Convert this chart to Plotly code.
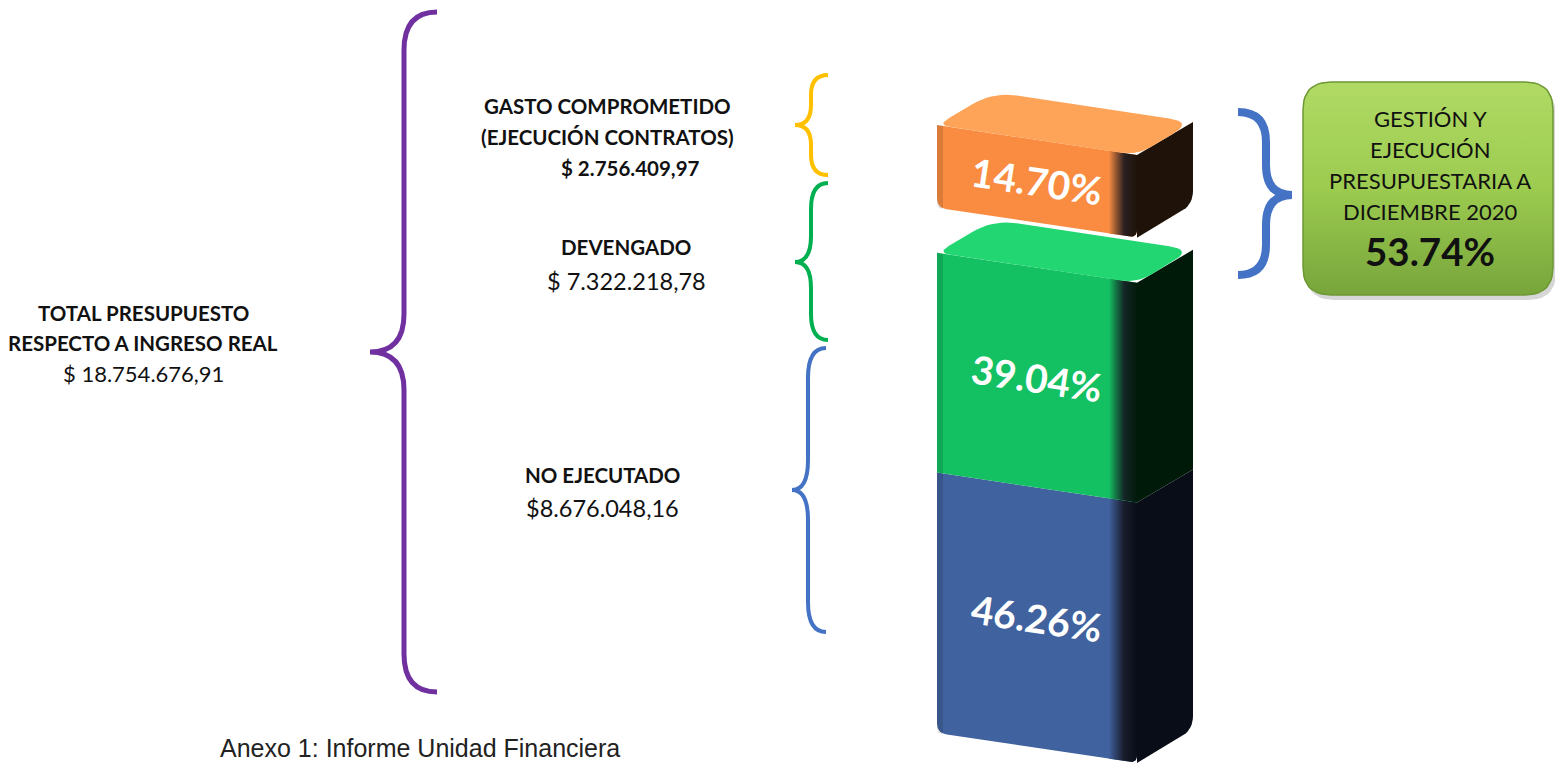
import numpy as np
import plotly.graph_objects as go

# ---------------- data ----------------
segment_names = ["NO EJECUTADO", "DEVENGADO", "GASTO COMPROMETIDO"]
segment_pct = [46.26, 39.04, 14.70]
segment_amounts = ["$8.676.048,16", "$ 7.322.218,78", "$ 2.756.409,97"]
total_label = ["TOTAL PRESUPUESTO", "RESPECTO A INGRESO REAL"]
total_amount = "$ 18.754.676,91"
gestion_lines = ["GESTIÓN Y", "EJECUCIÓN", "PRESUPUESTARIA A", "DICIEMBRE 2020"]
gestion_pct = 53.74
caption = "Anexo 1: Informe Unidad Financiera"

# ---------------- styles / geometry ----------------
W, H = 1555, 764
X0, FW = 937, 200          # front face left x and width (px)
SKEW = 30                  # front edges drop to the right (px)
DX, DY = 56, 33            # depth vector (px right, px up)
BOTTOM_PX, TOP_PX, GAP_PX = 733, 125, 45
FONT = "Lato, 'Open Sans', sans-serif"

front_col = ["#40629E", "#13C062", "#F98C41"]
top_col = ["#5479B8", "#22D672", "#FDA458"]
side_col = ["#090D18", "#001A0A", "#1F1208"]

k = (BOTTOM_PX - TOP_PX - GAP_PX) / sum(segment_pct)   # px per percent
s = SKEW / k
d = DY / k
gap = GAP_PX / k
y2_range = [(BOTTOM_PX - H) / k, BOTTOM_PX / k]


def rounded(points, radii, n=10, yscale=1.0):
    pts = [np.array(p, dtype=float) for p in points]
    m = len(pts)
    out = []
    for i in range(m):
        p, a, b = pts[i], pts[i - 1], pts[(i + 1) % m]
        r = radii[i]
        if r <= 0:
            out.append(p)
            continue
        L = lambda v: np.hypot(v[0], v[1] * yscale)
        ta = min(r / L(a - p), 0.5)
        tb = min(r / L(b - p), 0.5)
        p1, p2 = p + (a - p) * ta, p + (b - p) * tb
        for t in np.linspace(0, 1, n):
            out.append((1 - t) ** 2 * p1 + 2 * (1 - t) * t * p + t ** 2 * p2)
    out.append(out[0])
    arr = np.array(out)
    return arr[:, 0], arr[:, 1]


fig = go.Figure()

def poly(xs, ys, color, yaxis="y2", grad=None, line=None):
    kw = dict(x=xs, y=ys, mode="lines", fill="toself", yaxis=yaxis,
              line=line or dict(width=0, color=color), hoverinfo="skip",
              showlegend=False)
    if grad is not None:
        kw["fillgradient"] = grad
    else:
        kw["fillcolor"] = color
    fig.add_trace(go.Scatter(**kw))

# ---------------- 3D stacked bar (percent axis y2) ----------------
bases = []
acc = 0.0
for i, v in enumerate(segment_pct):
    if i == 2:
        acc += gap
    bases.append(acc)
    acc += v

label_pos = []
for i, v in enumerate(segment_pct):
    b = bases[i]
    t = b + v
    block_bottom = i in (0, 2)
    # side face
    side = [(X0 + FW, b - s), (X0 + FW + DX, b - s + d), (X0 + FW + DX, t - s + d), (X0 + FW, t - s)]
    xs, ys = rounded(side, [0, 14 if block_bottom else 0, 0, 0], yscale=k)
    poly(xs, ys, side_col[i])
    # front face
    front = [(X0, b), (X0 + FW, b - s), (X0 + FW, t - s), (X0, t)]
    xs, ys = rounded(front, [10 if block_bottom else 0, 8 if block_bottom else 0, 0, 0], yscale=k)
    poly(xs, ys, front_col[i])
    # rounded vertical edge shading
    e0 = FW - 28
    edge = [(X0 + e0, b - s * e0 / FW), (X0 + FW, b - s), (X0 + FW, t - s), (X0 + e0, t - s * e0 / FW)]
    xs, ys = rounded(edge, [0, 8 if block_bottom else 0, 0, 0], yscale=k)
    poly(xs, ys, front_col[i],
         grad=dict(type="horizontal", colorscale=[[0, front_col[i]], [0.55, "rgba(20,20,30,0.9)"], [1, side_col[i]]]))
    # left edge subtle stripe
    le = [(X0, b), (X0 + 6, b - s * 6 / FW), (X0 + 6, t - s * 6 / FW), (X0, t)]
    xs, ys = rounded(le, [6 if block_bottom else 0, 0, 0, 0], yscale=k)
    poly(xs, ys, "rgba(0,0,0,0.12)")
    # top face (only visible ones)
    if i in (1, 2):
        top = [(X0, t), (X0 + FW, t - s), (X0 + FW + DX, t - s + d), (X0 + DX, t + d)]
        xs, ys = rounded(top, [14, 16, 24, 24], yscale=k)
        poly(xs, ys, top_col[i])
    label_pos.append((X0 + FW / 2, b + v / 2 - s / 2))

# ---------------- braces (decorations, pixel axis y) ----------------
def brace(xe, xt, xm, y0, y1, ym, q):
    return (f"M {xe},{y0} Q {xm},{y0} {xm},{y0 + q} L {xm},{ym - q} "
            f"Q {xm},{ym} {xt},{ym} Q {xm},{ym} {xm},{ym + q} "
            f"L {xm},{y1 - q} Q {xm},{y1} {xe},{y1}")

braces = [
    (437, 370, 404, 12, 692, 352, 38, "#7030A0", 5),
    (828, 795, 811, 75, 175, 125, 20, "#FFC000", 4),
    (828, 795, 811, 183, 340, 262, 26, "#00B050", 4),
    (826, 792, 808, 348, 632, 490, 30, "#4472C4", 4),
    (1238, 1292, 1266, 112, 275, 195, 30, "#4472C4", 8),
]
shapes = []
for xe, xt, xm, y0, y1, ym, q, col, w in braces:
    shapes.append(dict(type="path", path=brace(xe, xt, xm, y0, y1, ym, q), xref="x", yref="y",
                       line=dict(color=col, width=w), fillcolor="rgba(0,0,0,0)", layer="above"))

# ---------------- right green box ----------------
bx = [(1306, 88), (1556, 88), (1556, 300), (1306, 300)]
xs, ys = rounded(bx, [28] * 4, n=12)
poly(xs, ys, "rgba(0,0,0,0.16)", yaxis="y")
bx = [(1303, 82), (1553, 82), (1553, 295), (1303, 295)]
xs, ys = rounded(bx, [28] * 4, n=12)
poly(xs, ys, "#9BCB50", yaxis="y",
     grad=dict(type="vertical", colorscale=[[0, "#78A53B"], [0.5, "#9CCB50"], [1, "#B0DA64"]]),
     line=dict(color="#6E9833", width=1.5))

# ---------------- annotations ----------------
ann = []
def txt(x, y, text, size, bold=False, color="#111", yref="y", angle=0, family=FONT, xanchor="center"):
    ann.append(dict(x=x, y=y, xref="x", yref=yref, text=f"<b>{text}</b>" if bold else text,
                    showarrow=False, font=dict(family=family, size=size, color=color),
                    xanchor=xanchor, yanchor="middle", textangle=angle))

ang = float(np.degrees(np.arctan(SKEW / FW)))
for (lx, ly), v in zip(label_pos, segment_pct):
    txt(lx, ly, f"{v:.2f}%", 39, bold=True, color="white", yref="y2", angle=ang)

txt(143, 313, total_label[0], 20.5, bold=True)
txt(143, 343, total_label[1], 20.5, bold=True)
txt(143, 373, total_amount, 22)

txt(607, 106, segment_names[2], 20.5, bold=True)
txt(607, 137, "(EJECUCIÓN CONTRATOS)", 20.5, bold=True)
txt(630, 168, segment_amounts[2], 20.5, bold=True)

txt(626, 247, segment_names[1], 20.5, bold=True)
txt(626, 281, segment_amounts[1], 23.5)

txt(602, 475, segment_names[0], 20.5, bold=True)
txt(602, 508, segment_amounts[0], 23.5)

for j, line in enumerate(gestion_lines):
    txt(1430, 118 + j * 31, line, 22)
txt(1430, 251, f"{gestion_pct:.2f}%", 38.5, bold=True)

ann.append(dict(x=218, y=764, xref="x", yref="y", text=caption, showarrow=False,
                font=dict(family="Liberation Sans, Arial", size=25, color="#222"),
                xanchor="left", yanchor="bottom"))

fig.update_layout(
    width=W, height=H, margin=dict(l=0, r=0, t=0, b=0),
    paper_bgcolor="white", plot_bgcolor="white", showlegend=False,
    xaxis=dict(range=[0, W], visible=False, fixedrange=True),
    yaxis=dict(range=[H, 0], visible=False, fixedrange=True),
    yaxis2=dict(range=y2_range, visible=False, overlaying="y", fixedrange=True),
    shapes=shapes, annotations=ann,
)
fig.write_html("out.html", config={"displayModeBar": False},
               post_script="document.body.style.margin='0';document.body.style.overflow='hidden';")
